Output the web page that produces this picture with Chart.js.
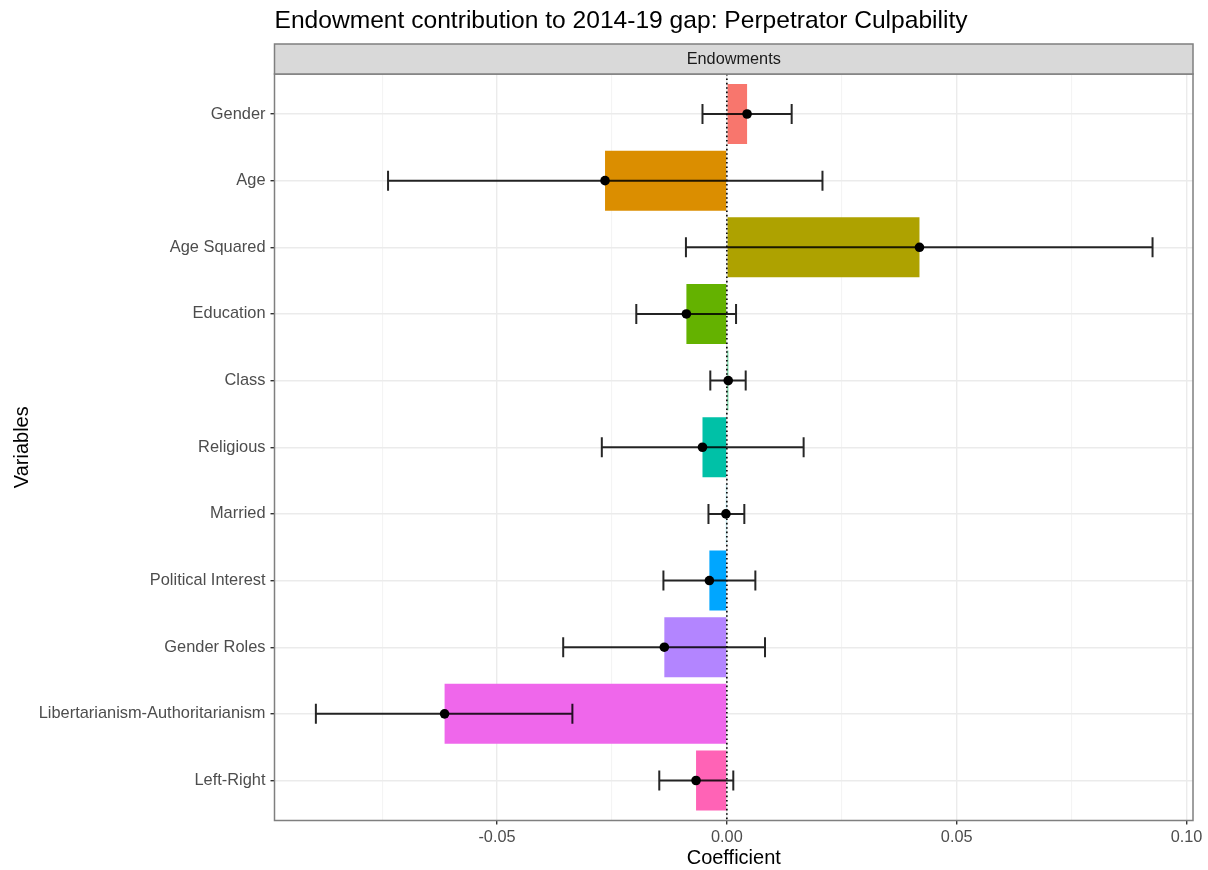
<!DOCTYPE html>
<html>
<head>
<meta charset="utf-8">
<title>Endowment contribution to 2014-19 gap</title>
<script src="https://cdn.jsdelivr.net/npm/chart.js@4.4.1/dist/chart.umd.min.js"></script>
<style>
  html, body { margin: 0; padding: 0; background: #ffffff; }
  #wrap { width: 1208px; height: 870px; }
</style>
</head>
<body>
<div id="wrap"><canvas id="chart" width="1208" height="870"></canvas></div>
<script>
// Decomposition: endowment contributions per variable, with 95% intervals
const variables = [
  'Gender', 'Age', 'Age Squared', 'Education', 'Class', 'Religious',
  'Married', 'Political Interest', 'Gender Roles',
  'Libertarianism-Authoritarianism', 'Left-Right'
];
const estimates = [0.0044, -0.0265, 0.0419, -0.0088, 0.0003, -0.0053, -0.0002, -0.0038, -0.0136, -0.0614, -0.0067];
const lowerCI   = [-0.0053, -0.0737, -0.0089, -0.0197, -0.0036, -0.0272, -0.0040, -0.0138, -0.0356, -0.0894, -0.0147];
const upperCI   = [0.0141, 0.0208, 0.0926, 0.0020, 0.0041, 0.0167, 0.0038, 0.0062, 0.0083, -0.0336, 0.0014];
const fillColors = ['#F8766D', '#DB8E00', '#AEA200', '#64B200', '#00BD5C', '#00C1A7',
                    '#00BADE', '#00A6FF', '#B385FF', '#EF67EB', '#FF63B6'];
const xTicks = [-0.075, -0.05, -0.025, 0, 0.025, 0.05, 0.075, 0.10];
const xLimits = [-0.0984, 0.1014];
const yLimits = [-0.6, 10.6];

const FONT = "'Liberation Sans', Arial, Helvetica, sans-serif";
const isMajor = v => Math.abs(v / 0.05 - Math.round(v / 0.05)) < 1e-6;

// Panel decorations: facet strip, title, zero reference line, error bars, points, border
const panelPlugin = {
  id: 'panel',
  beforeDraw(chart) {
    const { ctx, width, height } = chart;
    ctx.save();
    ctx.fillStyle = '#ffffff';
    ctx.fillRect(0, 0, width, height);
    ctx.restore();
  },
  afterDatasetsDraw(chart) {
    const { ctx, chartArea: a, scales: { x, y } } = chart;
    ctx.save();

    // dotted reference line at zero
    const x0 = x.getPixelForValue(0);
    ctx.beginPath();
    ctx.setLineDash([1.6, 2.8]);
    ctx.lineWidth = 1.6;
    ctx.strokeStyle = '#000000';
    ctx.moveTo(x0, a.top);
    ctx.lineTo(x0, a.bottom);
    ctx.stroke();
    ctx.setLineDash([]);

    // error bars
    const cap = (y.getPixelForValue(1) - y.getPixelForValue(0)) * 0.15;
    ctx.strokeStyle = 'rgba(0,0,0,0.85)';
    ctx.lineWidth = 2;
    variables.forEach((_, i) => {
      const py = y.getPixelForValue(i);
      const lo = x.getPixelForValue(lowerCI[i]);
      const hi = x.getPixelForValue(upperCI[i]);
      ctx.beginPath();
      ctx.moveTo(lo, py); ctx.lineTo(hi, py);
      ctx.moveTo(lo, py - cap); ctx.lineTo(lo, py + cap);
      ctx.moveTo(hi, py - cap); ctx.lineTo(hi, py + cap);
      ctx.stroke();
    });

    // point estimates
    ctx.fillStyle = '#000000';
    variables.forEach((_, i) => {
      ctx.beginPath();
      ctx.arc(x.getPixelForValue(estimates[i]), y.getPixelForValue(i), 4.8, 0, Math.PI * 2);
      ctx.fill();
    });

    // panel border
    ctx.strokeStyle = '#7f7f7f';
    ctx.lineWidth = 1.5;
    ctx.strokeRect(a.left, a.top, a.right - a.left, a.bottom - a.top);

    // facet strip
    const stripTop = 44;
    ctx.fillStyle = '#D9D9D9';
    ctx.fillRect(a.left, stripTop, a.right - a.left, a.top - stripTop);
    ctx.strokeRect(a.left, stripTop, a.right - a.left, a.top - stripTop);
    ctx.fillStyle = '#1A1A1A';
    ctx.font = `16.3px ${FONT}`;
    ctx.textAlign = 'center';
    ctx.textBaseline = 'middle';
    ctx.fillText('Endowments', (a.left + a.right) / 2, (stripTop + a.top) / 2 + 1);

    // plot title
    ctx.fillStyle = '#000000';
    ctx.font = `24.6px ${FONT}`;
    ctx.textAlign = 'left';
    ctx.textBaseline = 'middle';
    ctx.fillText('Endowment contribution to 2014-19 gap: Perpetrator Culpability', a.left, 21);

    ctx.restore();
  }
};

new Chart(document.getElementById('chart'), {
  type: 'bar',
  data: {
    datasets: [{
      data: variables.map((_, i) => ({ x: estimates[i], y: i })),
      backgroundColor: fillColors,
      borderWidth: 0,
      barPercentage: 0.9,
      categoryPercentage: 1.0
    }]
  },
  options: {
    indexAxis: 'y',
    responsive: false,
    animation: false,
    layout: { padding: { top: 74, right: 15, bottom: 0, left: 0 } },
    plugins: {
      legend: { display: false },
      tooltip: { enabled: false },
      title: { display: false }
    },
    scales: {
      x: {
        type: 'linear',
        min: xLimits[0],
        max: xLimits[1],
        afterBuildTicks: s => { s.ticks = xTicks.map(v => ({ value: v })); },
        afterFit: s => { s.height = 49.5; },
        border: { display: false },
        grid: {
          color: c => isMajor(c.tick.value) ? '#EBEBEB' : '#F4F4F4',
          lineWidth: c => isMajor(c.tick.value) ? 1.4 : 1.1,
          tickColor: c => isMajor(c.tick.value) ? '#333333' : 'rgba(0,0,0,0)',
          tickLength: 4,
          tickWidth: 1.4
        },
        ticks: {
          autoSkip: false,
          maxRotation: 0,
          padding: 3,
          color: '#4D4D4D',
          font: { family: FONT, size: 16.3 },
          callback: v => isMajor(v) ? v.toFixed(2) : ''
        },
        title: {
          display: true,
          text: 'Coefficient',
          color: '#000000',
          font: { family: FONT, size: 20 },
          padding: { top: 0, bottom: 0 }
        }
      },
      y: {
        type: 'linear',
        min: yLimits[0],
        max: yLimits[1],
        reverse: true,
        offset: false,
        afterBuildTicks: s => { s.ticks = variables.map((_, i) => ({ value: i })); },
        afterFit: s => { s.width = 274.5; },
        border: { display: false },
        grid: {
          offset: false,
          color: '#EBEBEB',
          lineWidth: 1.4,
          tickColor: '#333333',
          tickLength: 4,
          tickWidth: 1.4
        },
        ticks: {
          autoSkip: false,
          padding: 5,
          color: '#4D4D4D',
          font: { family: FONT, size: 16.4 },
          callback: v => variables[v]
        },
        title: {
          display: true,
          text: 'Variables',
          color: '#000000',
          font: { family: FONT, size: 20 },
          padding: { top: 10, bottom: 0 }
        }
      }
    }
  },
  plugins: [panelPlugin]
});
</script>
</body>
</html>
